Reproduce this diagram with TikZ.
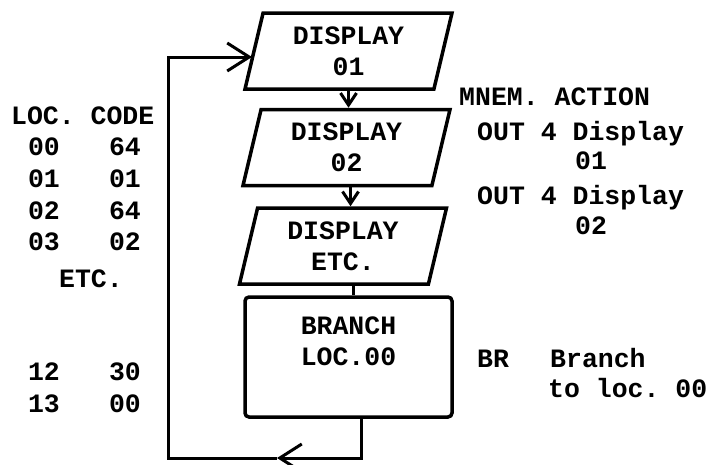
\documentclass[tikz,border=0pt]{standalone}
\usepackage{fontspec}
\setmonofont{Liberation Mono}
\usetikzlibrary{shapes.geometric,arrows.meta}

\tikzset{
  io/.style={draw, trapezium, trapezium left angle=72, trapezium right angle=108,
    trapezium stretches body, minimum width=207pt, minimum height=76pt,
    line width=3.5pt, align=center},
  proc/.style={draw, rectangle, rounded corners=4pt, minimum width=207pt,
    minimum height=120pt, line width=3.5pt, align=center},
  txt/.style={inner sep=0pt, anchor=mid west},
  col/.style={inner sep=0pt, anchor=mid},
  flow/.style={line width=3pt},
  small/.style={-{Straight Barb[length=12pt,width=16pt]}},
  big/.style={-{Straight Barb[length=22pt,width=28pt]}},
}

\begin{document}
\begin{tikzpicture}[x=1pt, y=-1pt, line join=miter,
    font=\ttfamily\bfseries\fontsize{26.5}{31}\selectfont]
  \useasboundingbox (0,0) rectangle (712,464);

  % flowchart
  \node[io] (disp1) at (348.5,51){DISPLAY\\01};
  \node[io] (disp2) at (346.5,147.5){DISPLAY\\02};
  \node[io] (disp3) at (343,246){DISPLAY\\ETC.};
  \node[proc] (branch) at (348.5,357){BRANCH\\LOC.00\\~};

  \draw[flow, small] (disp1.south) -- (disp1.south |- disp2.north);
  \draw[flow, small] ([xshift=4pt]disp2.south) -- ([xshift=4pt]disp2.south |- disp3.north);
  \draw[flow] ([xshift=10pt]disp3.south) -- ([xshift=10pt]disp3.south |- branch.north);

  % loop back to loc. 00
  \coordinate (tipB) at (277,458);
  \coordinate (loopB) at (168,458);
  \coordinate (loopT) at (168,57);
  \coordinate (entry) at (252,57);
  \draw[flow, big] ([xshift=13pt]branch.south) |- (tipB);
  \draw[flow, big] (tipB) -- (loopB) -- (loopT) -- (entry);

  % memory listing
  \node[txt] (head) at (11,122){LOC. CODE};
  \foreach \y/\l/\c in {153/00/64, 185/01/01, 217/02/64, 248/03/02, 378/12/30, 410/13/00}
    {\node[col] (loc\l) at (44,\y){\l};
     \node[col] (code\l) at (125,\y){\c};}
  \node[col] (etc) at (91,285){ETC.};

  % mnemonics
  \node[txt] (mnem) at (459,103){MNEM. ACTION};
  \node[txt] (out1) at (477,138){OUT 4 Display};
  \node[txt] (arg1) at (575,167){01};
  \node[txt] (out2) at (477,202){OUT 4 Display};
  \node[txt] (arg2) at (575,232){02};
  \node[txt] (br) at (477,365){BR};
  \node[txt] (brto) at (550,365){Branch};
  \node[txt] (brloc) at (548,395){to loc. 00};
\end{tikzpicture}
\end{document}
